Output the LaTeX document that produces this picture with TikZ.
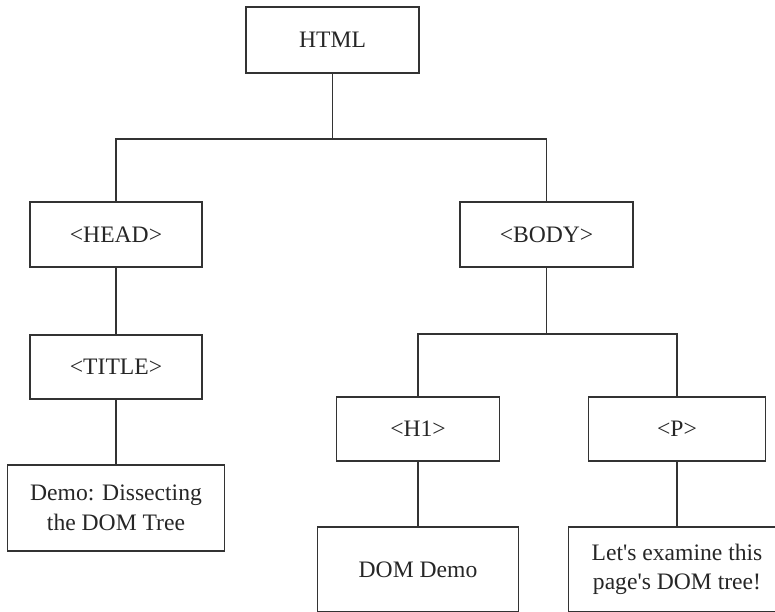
\documentclass[tikz,border=0pt]{standalone}
\usepackage{fontspec}
\setmainfont{Liberation Serif}
\usepackage{tikz}
\usetikzlibrary{positioning}

\begin{document}
\begin{tikzpicture}[
    x=0.75pt, y=-0.75pt,
    node distance=48pt,
    tagbox/.style={
        draw=black!80,
        line width=1.4pt,
        inner sep=0pt,
        align=center,
        text=black!85,
        font=\fontsize{17.7pt}{22pt}\selectfont
    },
    link/.style={draw=black!80, line width=1.4pt}
]
\useasboundingbox (0,0) rectangle (775,611);

% tree levels
\node[tagbox, minimum width=129.75pt, minimum height=49.5pt] (html) at (332.5,40) {HTML};
\node[tagbox, minimum width=129pt, minimum height=48.75pt] (head) at (116,234.5) {<HEAD>};
\node[tagbox, minimum width=129.75pt, minimum height=48.75pt] (body) at (546.5,234.5) {<BODY>};
\node[tagbox, minimum width=129pt, minimum height=48pt, below=49.5pt of head] (title) {<TITLE>};
\node[tagbox, minimum width=162.75pt, minimum height=64.5pt, below=of title] (demo) {Demo: Dissecting\\the DOM Tree};
\node[tagbox, minimum width=122.25pt, minimum height=48pt] (h1) at (418,429) {<H1>};
\node[tagbox, minimum width=132.75pt, minimum height=48pt] (p) at (677,429) {<P>};
\node[tagbox, minimum width=150.75pt, minimum height=63.75pt, below=of h1] (domdemo) {DOM Demo};
\node[tagbox, minimum width=162.75pt, minimum height=63.75pt, below=of p] (letsex) {Let\textquotesingle s examine this\\page\textquotesingle s DOM tree!};

% connectors
\draw[link] (html.south) -- ++(0,65) coordinate (topbus);
\draw[link] (head) |- (topbus) -| (body);
\draw[link] (head) -- (title);
\draw[link] (title) -- (demo);
\draw[link] (body.south) -- ++(0,66) coordinate (lowbus);
\draw[link] (h1) |- (lowbus) -| (p);
\draw[link] (h1) -- (domdemo);
\draw[link] (p) -- (letsex);
\end{tikzpicture}
\end{document}
